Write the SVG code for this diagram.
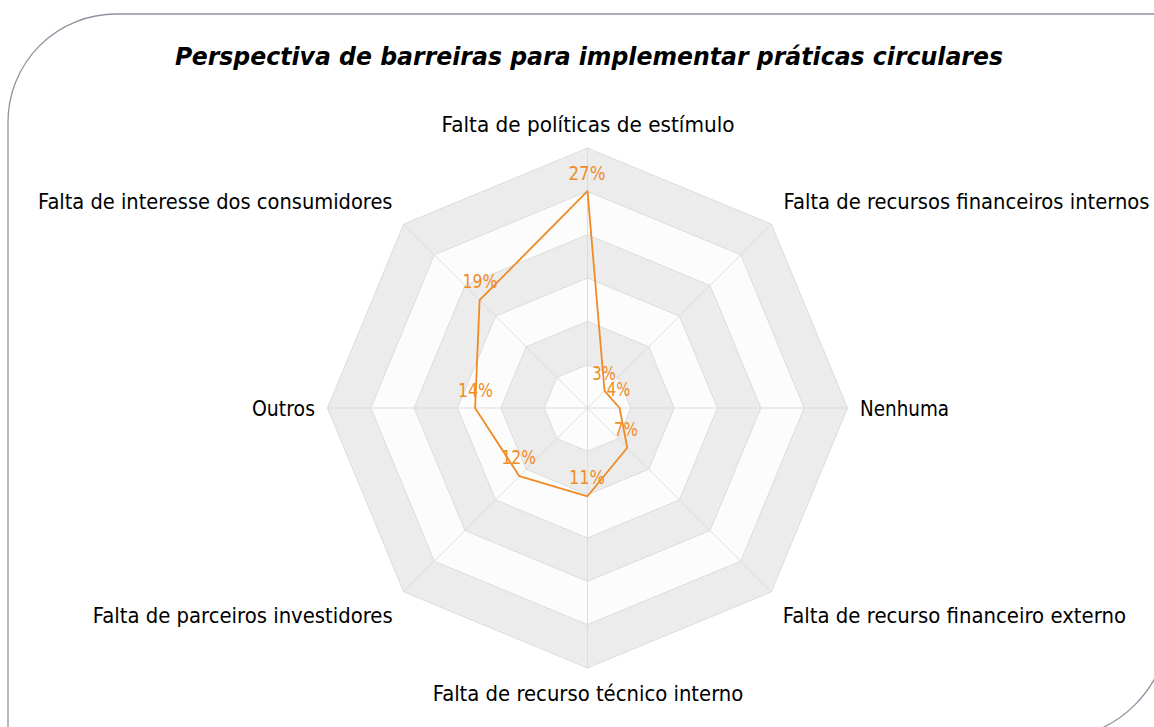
<svg xmlns="http://www.w3.org/2000/svg" width="1154" height="727" viewBox="0 0 1154 727">
<style>
.frame{fill:none;stroke:#8e93a2;stroke-width:1.3}
.title{font-family:"DejaVu Sans",Verdana,sans-serif;font-size:25px;font-weight:bold;font-style:italic;fill:#000}
.ax{font-family:"DejaVu Sans",Verdana,sans-serif;font-size:21px;fill:#000}
.val{font-family:"DejaVu Sans",Verdana,sans-serif;font-size:20px;fill:#f08c26;text-anchor:middle}
.g{fill:#ececec;stroke:#dcdcdc;stroke-width:1}
.w{fill:#fcfcfc;stroke:#dcdcdc;stroke-width:1}
.spoke{stroke:#dcdcdc;stroke-width:1}
.series{fill:none;stroke:#ef8a25;stroke-width:1.8;stroke-linejoin:round}
</style>
<rect width="1154" height="727" fill="#ffffff"/>
<path class="frame" d="M8,740 V122 A108,108 0 0 1 116,14 H1170 V620 A120,120 0 0 1 1050,740 Z"/>
<text class="title" x="589" y="65" text-anchor="middle" textLength="828" lengthAdjust="spacingAndGlyphs">Perspectiva de barreiras para implementar práticas circulares</text>
<g id="grid">
<polygon class="g" points="587.5,148 771.35,224.15 847.5,408 771.35,591.85 587.5,668 403.65,591.85 327.5,408 403.65,224.15"/>
<polygon class="w" points="587.5,191.33 740.71,254.79 804.17,408 740.71,561.21 587.5,624.67 434.29,561.21 370.83,408 434.29,254.79"/>
<polygon class="g" points="587.5,234.67 710.06,285.44 760.83,408 710.06,530.56 587.5,581.33 464.94,530.56 414.17,408 464.94,285.44"/>
<polygon class="w" points="587.5,278 679.42,316.08 717.5,408 679.42,499.92 587.5,538 495.58,499.92 457.5,408 495.58,316.08"/>
<polygon class="g" points="587.5,321.33 648.78,346.72 674.17,408 648.78,469.28 587.5,494.67 526.22,469.28 500.83,408 526.22,346.72"/>
<polygon class="w" points="587.5,364.67 618.14,377.36 630.83,408 618.14,438.64 587.5,451.33 556.86,438.64 544.17,408 556.86,377.36"/>
<line class="spoke" x1="587.5" y1="408" x2="587.5" y2="148"/>
<line class="spoke" x1="587.5" y1="408" x2="771.35" y2="224.15"/>
<line class="spoke" x1="587.5" y1="408" x2="847.5" y2="408"/>
<line class="spoke" x1="587.5" y1="408" x2="771.35" y2="591.85"/>
<line class="spoke" x1="587.5" y1="408" x2="587.5" y2="668"/>
<line class="spoke" x1="587.5" y1="408" x2="403.65" y2="591.85"/>
<line class="spoke" x1="587.5" y1="408" x2="327.5" y2="408"/>
<line class="spoke" x1="587.5" y1="408" x2="403.65" y2="224.15"/>
</g>
<g id="axis-labels">
<text id="ax-politicas" class="ax" x="588" y="132" text-anchor="middle" textLength="293" lengthAdjust="spacingAndGlyphs">Falta de políticas de estímulo</text>
<text id="ax-fin-internos" class="ax" x="783.5" y="209" textLength="366" lengthAdjust="spacingAndGlyphs">Falta de recursos financeiros internos</text>
<text id="ax-nenhuma" class="ax" x="860" y="416" textLength="89" lengthAdjust="spacingAndGlyphs">Nenhuma</text>
<text id="ax-fin-externo" class="ax" x="782.7" y="623" textLength="343.3" lengthAdjust="spacingAndGlyphs">Falta de recurso financeiro externo</text>
<text id="ax-tecnico" class="ax" x="588" y="701" text-anchor="middle" textLength="310.7" lengthAdjust="spacingAndGlyphs">Falta de recurso técnico interno</text>
<text id="ax-parceiros" class="ax" x="392.7" y="623" text-anchor="end" textLength="300" lengthAdjust="spacingAndGlyphs">Falta de parceiros investidores</text>
<text id="ax-outros" class="ax" x="315" y="416" text-anchor="end" textLength="63" lengthAdjust="spacingAndGlyphs">Outros</text>
<text id="ax-consumidores" class="ax" x="392.5" y="209" text-anchor="end" textLength="354.5" lengthAdjust="spacingAndGlyphs">Falta de interesse dos consumidores</text>
</g>
<g id="series">
<polygon class="series" points="587.5,191.2 604.54,390.96 619.6,408 627.24,447.74 587.5,496.3 519.34,476.16 475.1,408 479.6,300.1"/>
</g>
<g id="value-labels">
<text class="val" x="587" y="179.5" textLength="37" lengthAdjust="spacingAndGlyphs">27%</text>
<text class="val" x="604" y="379.5" textLength="23.5" lengthAdjust="spacingAndGlyphs">3%</text>
<text class="val" x="618.5" y="396" textLength="23.5" lengthAdjust="spacingAndGlyphs">4%</text>
<text class="val" x="626" y="436" textLength="24" lengthAdjust="spacingAndGlyphs">7%</text>
<text class="val" x="587" y="483.5" textLength="36" lengthAdjust="spacingAndGlyphs">11%</text>
<text class="val" x="518.7" y="463.5" textLength="34.5" lengthAdjust="spacingAndGlyphs">12%</text>
<text class="val" x="475.5" y="396.5" textLength="35" lengthAdjust="spacingAndGlyphs">14%</text>
<text class="val" x="480" y="288" textLength="35" lengthAdjust="spacingAndGlyphs">19%</text>
</g>
</svg>
